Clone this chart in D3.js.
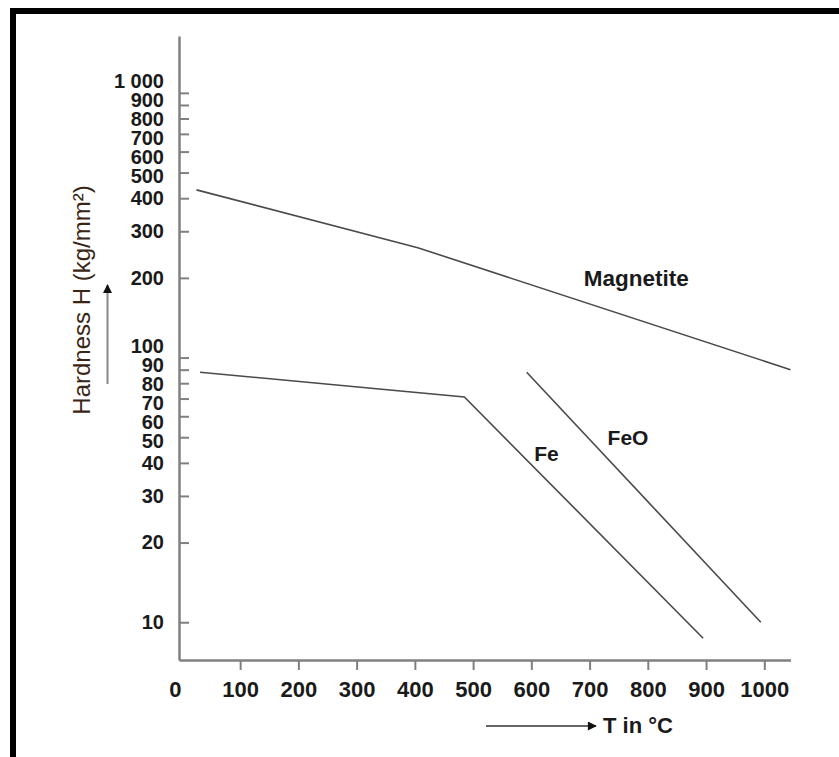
<!DOCTYPE html>
<html>
<head>
<meta charset="utf-8">
<script src="https://cdn.jsdelivr.net/npm/d3@7/dist/d3.min.js"></script>
<style>
body { margin: 0; background: #fff; }
svg { display: block; font-family: "Liberation Sans", Arial, sans-serif; }
.axis path, .axis line { stroke: #808080; }
.axis text { fill: #1a1a1a; font-weight: bold; }
</style>
</head>
<body>
<div id="vis"></div>
<script>
// values: temperature (°C) and hardness (kg/mm²)
var magnetiteT = [25, 405, 1045];
var magnetiteH = [430, 260, 90];
var feT = [31, 485, 895];
var feH = [88, 71, 8.7];
var feoT = [592, 994];
var feoH = [88, 10];

var xTicks = [0, 100, 200, 300, 400, 500, 600, 700, 800, 900, 1000];
var yTicks = [10, 20, 30, 40, 50, 60, 70, 80, 90, 100, 200, 300, 400, 500, 600, 700, 800, 900, 1000];
var yTickLabels = ["10", "20", "30", "40", "50", "60", "70", "80", "90", "100",
                   "200", "300", "400", "500", "600", "700", "800", "900", "1 000"];

// curve names and where their labels sit (T, H)
var seriesNames = ["Magnetite", "Fe", "FeO"];
var labelT = [780, 626, 766];
var labelH = [186, 40.6, 46.7];

var width = 839, height = 757;

var svg = d3.select("#vis").append("svg")
    .attr("width", width)
    .attr("height", height);

// black frame (left and top edge only)
svg.append("rect").attr("x", 10).attr("y", 8).attr("width", 6).attr("height", height - 8).attr("fill", "#000");
svg.append("rect").attr("x", 10).attr("y", 8).attr("width", width - 10).attr("height", 6).attr("fill", "#000");

var x = d3.scaleLinear()
    .domain([-5, 1045])
    .range([179, 790.5]);

var y = d3.scaleLog()
    .domain([7.2, 1640])
    .range([660, 36]);

//x axis
var xAxis = svg.append("g")
    .attr("class", "axis axis-x")
    .attr("transform", "translate(0,660)")
    .call(d3.axisBottom(x).tickValues(xTicks).tickSize(10).tickSizeOuter(0).tickPadding(11).tickFormat(d3.format("d")));
xAxis.select(".domain").attr("stroke-width", 2.5);
xAxis.selectAll(".tick line").attr("stroke-width", 2);
xAxis.selectAll(".tick line").filter(function(d){ return d === 0; }).remove();
xAxis.selectAll(".tick text").attr("font-size", 22);
xAxis.selectAll(".tick").filter(function(d){ return d === 0; }).select("text").attr("x", -7);

//y axis, ticks pointing inward
var yAxis = svg.append("g")
    .attr("class", "axis axis-y")
    .attr("transform", "translate(179,0)")
    .call(d3.axisLeft(y).tickValues(yTicks).tickSize(-10).tickSizeOuter(0).tickPadding(15)
        .tickFormat(function(d, i){ return yTickLabels[i]; }));
yAxis.select(".domain").attr("stroke-width", 2.5);
yAxis.selectAll(".tick line").attr("stroke-width", 2);
yAxis.selectAll(".tick text").attr("font-size", 20);

// crowded labels get pushed apart around their ticks
function spreadLabels(ys, gap){
    var groups = ys.map(function(v){ return {ys: [v], top: v}; });
    var merged = true;
    while (merged) {
        merged = false;
        for (var i = 0; i < groups.length - 1; i++) {
            var a = groups[i], b = groups[i + 1];
            if (a.top + a.ys.length * gap > b.top) {
                var all = a.ys.concat(b.ys);
                groups.splice(i, 2, {ys: all, top: d3.mean(all) - (all.length - 1) * gap / 2});
                merged = true;
                break;
            }
        }
    }
    var out = [];
    groups.forEach(function(g){
        g.ys.forEach(function(v, k){ out.push(g.top + k * gap); });
    });
    return out;
}
var tickYs = yTicks.map(function(d){ return y(d); }).reverse();
var labelYs = spreadLabels(tickYs, 19).reverse();
yAxis.selectAll(".tick text")
    .attr("y", function(d, i){ return labelYs[i] - y(d); });

// curves
var line = d3.line()
    .x(function(d){ return x(d[0]); })
    .y(function(d){ return y(d[1]); });

var series = [d3.zip(magnetiteT, magnetiteH), d3.zip(feT, feH), d3.zip(feoT, feoH)];

svg.selectAll("path.curve")
    .data(series)
    .enter().append("path")
    .attr("class", "curve")
    .attr("d", line)
    .attr("fill", "none")
    .attr("stroke", "#4a4a4a")
    .attr("stroke-width", 1.6);

svg.selectAll("text.series")
    .data(seriesNames)
    .enter().append("text")
    .attr("class", "series")
    .attr("x", function(d, i){ return x(labelT[i]); })
    .attr("y", function(d, i){ return y(labelH[i]); })
    .attr("text-anchor", "middle")
    .attr("font-size", function(d, i){ return i === 0 ? 22.5 : 21; })
    .attr("font-weight", "bold")
    .attr("fill", "#1a1a1a")
    .text(function(d){ return d; });

// arrow heads
var defs = svg.append("defs");
defs.append("marker")
    .attr("id", "head")
    .attr("viewBox", "0 0 10 10")
    .attr("refX", 9).attr("refY", 5)
    .attr("markerWidth", 10).attr("markerHeight", 9)
    .attr("markerUnits", "userSpaceOnUse")
    .attr("orient", "auto")
    .append("path")
    .attr("d", "M0,0L10,5L0,10Z")
    .attr("fill", "#111");

//y axis title with arrow
svg.append("text")
    .attr("transform", "translate(90,300) rotate(-90)")
    .attr("text-anchor", "middle")
    .attr("font-size", 24)
    .attr("fill", "#3a2614")
    .text("Hardness H (kg/mm²)");

svg.append("line")
    .attr("x1", 107.5).attr("y1", 384)
    .attr("x2", 107.5).attr("y2", 285)
    .attr("stroke", "#888")
    .attr("stroke-width", 2)
    .attr("marker-end", "url(#head)");

//x axis title with arrow
svg.append("line")
    .attr("x1", 486).attr("y1", 726)
    .attr("x2", 596).attr("y2", 726)
    .attr("stroke", "#333")
    .attr("stroke-width", 1.5)
    .attr("marker-end", "url(#head)");

svg.append("text")
    .attr("x", 603)
    .attr("y", 733)
    .attr("font-size", 22)
    .attr("font-weight", "bold")
    .attr("fill", "#1a1a1a")
    .text("T in °C");
</script>
</body>
</html>
